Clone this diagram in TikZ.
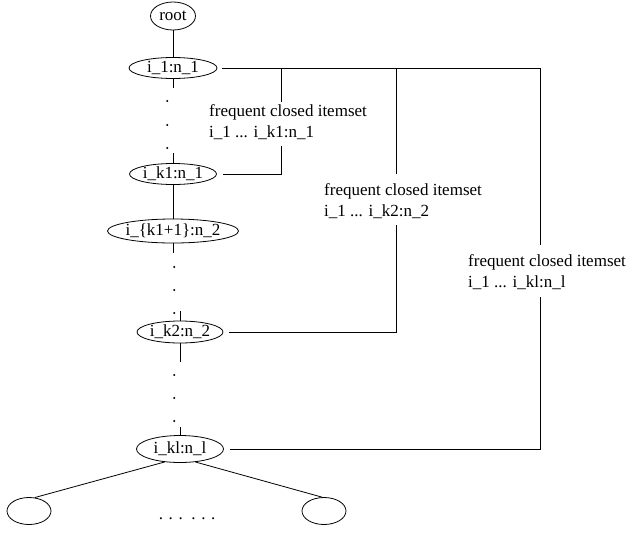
\documentclass[tikz,border=0pt]{standalone}
\usepackage{fontspec}
\setmainfont{Liberation Serif}
\usetikzlibrary{shapes.geometric}
\begin{document}
\begin{tikzpicture}[x=1pt,y=-1pt,
  every node/.style={font=\fontsize{17}{21}\selectfont},
  itemnode/.style={ellipse, draw, line width=0.8pt, inner sep=0pt},
  link/.style={line width=0.8pt},
  dotmark/.style={circle, fill, inner sep=0pt, minimum size=2.2pt},
  closedlabel/.style={anchor=north west, align=left, inner sep=0pt}]
\useasboundingbox (0,0) rectangle (628,536);
% tree nodes
\node[itemnode, minimum width=45pt, minimum height=28pt] (root) at (173,16) {\makebox[0pt]{root}};
\node[itemnode, minimum width=88pt, minimum height=21pt] (i1) at (173,68) {\makebox[0pt]{i\_1:n\_1}};
\node[itemnode, minimum width=87pt, minimum height=21pt] (ik1) at (173,174) {\makebox[0pt]{i\_k1:n\_1}};
\node[itemnode, minimum width=131pt, minimum height=24pt] (ik1p) at (173,231) {\makebox[0pt]{i\_\{k1+1\}:n\_2}};
\node[itemnode, minimum width=86pt, minimum height=22pt] (ik2) at (180,332) {\makebox[0pt]{i\_k2:n\_2}};
\node[itemnode, minimum width=87pt, minimum height=27pt] (ikl) at (180,449) {\makebox[0pt]{i\_kl:n\_l}};
\node[itemnode, minimum width=44pt, minimum height=27pt] (leafL) at (29,511) {};
\node[itemnode, minimum width=44pt, minimum height=27pt] (leafR) at (324,511) {};
\node[anchor=base west, inner sep=0pt] (more) at (158.6,519.5) {. . .\ \ . . .};
% labels
\node[closedlabel] (lab1) at (209,104) {frequent closed itemset\\i\_1 ... i\_k1:n\_1};
\node[closedlabel] (lab2) at (324,183.4) {frequent closed itemset\\i\_1 ... i\_k2:n\_2};
\node[closedlabel] (lab3) at (468,254.4) {frequent closed itemset\\i\_1 ... i\_kl:n\_l};
% coordinates
\coordinate (j1) at (281,68);
\coordinate (j2) at (396,68);
\coordinate (j3) at (540,68);
\coordinate (g1t) at (281,102);
\coordinate (g1b) at (281,146);
\coordinate (g2t) at (396,174);
\coordinate (g2b) at (396,225);
\coordinate (g3t) at (540,245);
\coordinate (g3b) at (540,297);
\coordinate (s1) at (173,88);
\coordinate (s2) at (173,153);
\coordinate (s3) at (173,253);
\coordinate (s4) at (180,311);
\coordinate (s5) at (180,362);
\coordinate (s6) at (180,427);
% dotted continuation marks
\node[dotmark] (d1) at (167.3,101) {};
\node[dotmark] (d2) at (167.3,125) {};
\node[dotmark] (d3) at (167.3,148) {};
\node[dotmark] (d4) at (174.3,267) {};
\node[dotmark] (d5) at (174.3,290) {};
\node[dotmark] (d6) at (174.3,313) {};
\node[dotmark] (d7) at (174.3,375) {};
\node[dotmark] (d8) at (174.3,398) {};
\node[dotmark] (d9) at (174.3,421) {};
% tree edges
\draw[link] (root) -- (i1);
\draw[link] (i1) -- (s1);
\draw[link] (s2) -- (ik1);
\draw[link] (ik1) -- (ik1p);
\draw[link] (ik1p) -- (s3);
\draw[link] (s4) -- (ik2);
\draw[link] (ik2) -- (s5);
\draw[link] (s6) -- (ikl);
\draw[link] (ikl.220) -- (leafL.67);
\draw[link] (ikl.320) -- (leafR.98);
% itemset links
\draw[link] ([xshift=5pt]i1.east) -- (j3);
\draw[link] (j1) -- (g1t);
\draw[link] (g1b) |- ([xshift=6pt]ik1.east);
\draw[link] (j2) -- (g2t);
\draw[link] (g2b) |- ([xshift=6pt]ik2.east);
\draw[link] (j3) -- (g3t);
\draw[link] (g3b) |- ([xshift=6pt]ikl.east);
\end{tikzpicture}
\end{document}
